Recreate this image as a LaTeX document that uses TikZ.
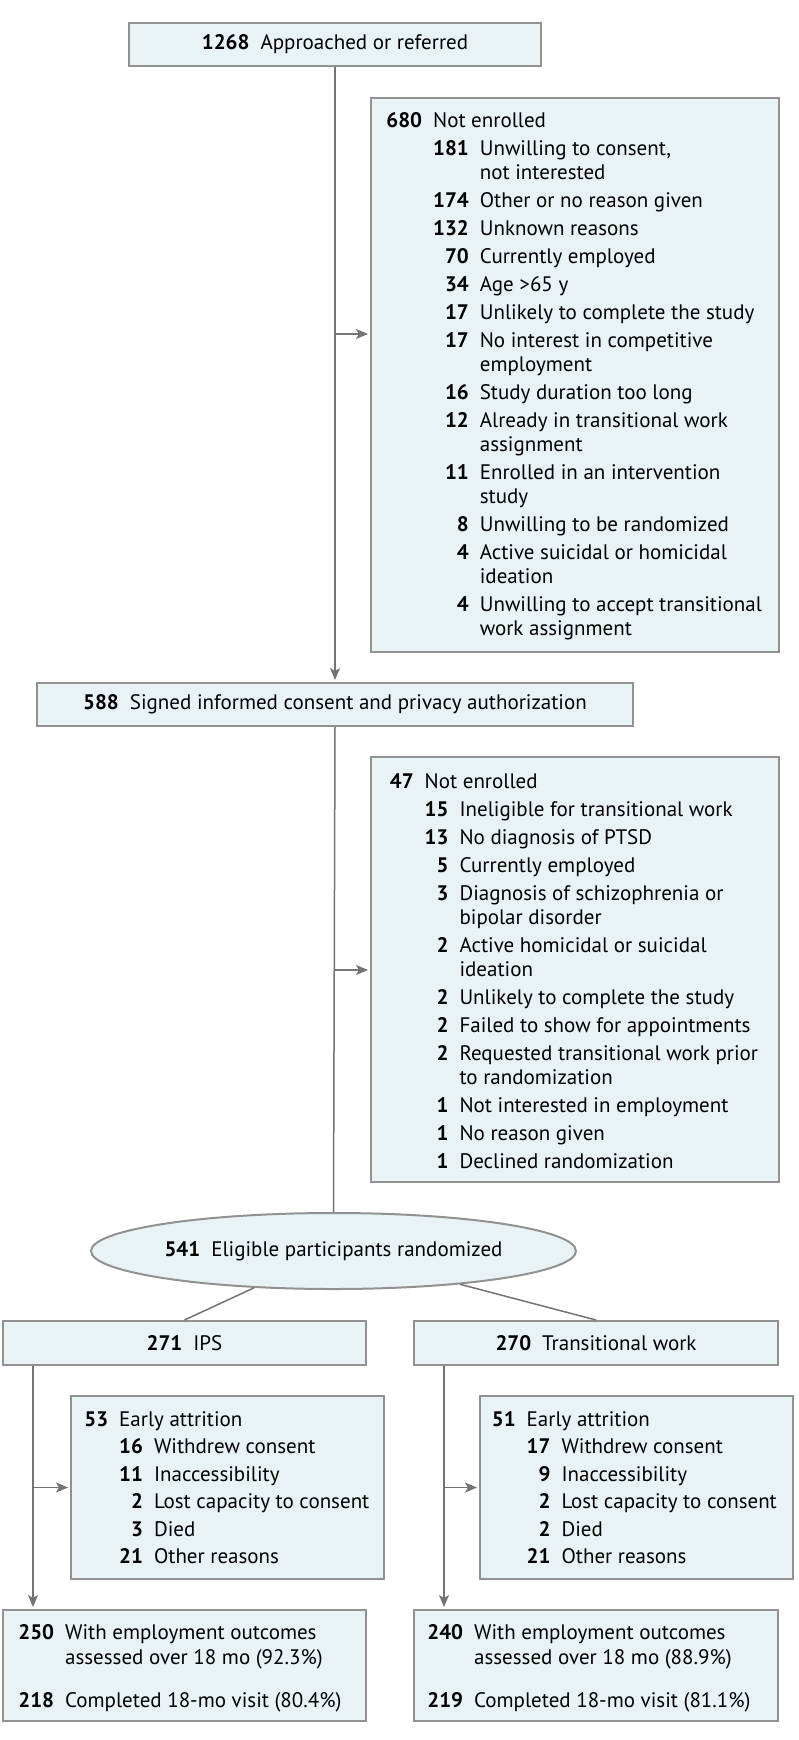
\documentclass[tikz,border=0pt]{standalone}
\usepackage{fontspec}
\setmainfont{PT Sans}
\usetikzlibrary{shapes.geometric,arrows.meta,calc}
\definecolor{boxfill}{RGB}{233,243,245}
\definecolor{boxline}{RGB}{145,145,145}
\definecolor{connc}{RGB}{115,115,115}
\newcommand{\gp}{\hspace{5.5pt}}
\begin{document}
\begin{tikzpicture}[x=0.5pt,y=-0.5pt,
  font=\fontsize{10.5}{12}\selectfont,
  box/.style={draw=boxline, fill=boxfill, line width=1pt, inner sep=0pt},
  lst/.style={anchor=base west, inner sep=0pt},
  conn/.style={draw=connc, line width=0.75pt},
  arr/.style={conn, shorten >=1pt, -{Stealth[length=6pt,width=5pt,inset=1.5pt]}}]
\useasboundingbox (0,0) rectangle (798,1740);

% boxes
\node[box, minimum width=206pt, minimum height=21.75pt] (top) at (335,44.25)
  {\textbf{1268}\gp Approached or referred};
\node[box, minimum width=204pt, minimum height=277pt] (ne1) at (575,375) {};
\node[box, minimum width=298pt, minimum height=21.5pt] (consent) at (335,704.5)
  {\textbf{588}\gp Signed informed consent and privacy authorization};
\node[box, minimum width=204pt, minimum height=212.5pt] (ne2) at (575,969.5) {};
\node[box, ellipse, minimum width=242.5pt, minimum height=38pt] (ell) at (333.5,1251)
  {\textbf{541}\gp Eligible participants randomized};
\node[box, minimum width=181.5pt, minimum height=22pt] (ips) at (184.5,1343)
  {\textbf{271}\gp IPS};
\node[box, minimum width=182pt, minimum height=22pt] (tw) at (596,1343)
  {\textbf{270}\gp Transitional work};
\node[box, minimum width=156.5pt, minimum height=91.5pt] (attips) at (227.5,1487.5) {};
\node[box, minimum width=156.5pt, minimum height=91.5pt] (atttw) at (636.5,1487.5) {};
\node[box, minimum width=181.5pt, minimum height=55.5pt] (ipsout) at (184.5,1665.5) {};
\node[box, minimum width=182pt, minimum height=55.5pt] (twout) at (596,1665.5) {};

% list texts
\node[lst] (ne1t) at (386,127) {\begin{tabular}[t]{@{}r@{\gp}r@{\gp}l@{}}
\textbf{680} & \multicolumn{2}{@{}l@{}}{Not enrolled}\\[2pt]
& \textbf{181} & Unwilling to consent,\\
& & not interested\\[2pt]
& \textbf{174} & Other or no reason given\\[2pt]
& \textbf{132} & Unknown reasons\\[2pt]
& \textbf{70} & Currently employed\\[2pt]
& \textbf{34} & Age >65 y\\[2pt]
& \textbf{17} & Unlikely to complete the study\\[2pt]
& \textbf{17} & No interest in competitive\\
& & employment\\[2pt]
& \textbf{16} & Study duration too long\\[2pt]
& \textbf{12} & Already in transitional work\\
& & assignment\\[2pt]
& \textbf{11} & Enrolled in an intervention\\
& & study\\[2pt]
& \textbf{8} & Unwilling to be randomized\\[2pt]
& \textbf{4} & Active suicidal or homicidal\\
& & ideation\\[2pt]
& \textbf{4} & Unwilling to accept transitional\\
& & work assignment
\end{tabular}};

\node[lst] (ne2t) at (389.5,788) {\begin{tabular}[t]{@{}r@{\gp}r@{\gp}l@{}}
\textbf{47} & \multicolumn{2}{@{}l@{}}{Not enrolled}\\[2pt]
& \textbf{15} & Ineligible for transitional work\\[2pt]
& \textbf{13} & No diagnosis of PTSD\\[2pt]
& \textbf{5} & Currently employed\\[2pt]
& \textbf{3} & Diagnosis of schizophrenia or\\
& & bipolar disorder\\[2pt]
& \textbf{2} & Active homicidal or suicidal\\
& & ideation\\[2pt]
& \textbf{2} & Unlikely to complete the study\\[2pt]
& \textbf{2} & Failed to show for appointments\\[2pt]
& \textbf{2} & Requested transitional work prior\\
& & to randomization\\[2pt]
& \textbf{1} & Not interested in employment\\[2pt]
& \textbf{1} & No reason given\\[2pt]
& \textbf{1} & Declined randomization
\end{tabular}};

\node[lst] (attipst) at (84,1426) {\begin{tabular}[t]{@{}r@{\gp}r@{\gp}l@{}}
\textbf{53} & \multicolumn{2}{@{}l@{}}{Early attrition}\\[1.75pt]
& \textbf{16} & Withdrew consent\\[1.75pt]
& \textbf{11} & Inaccessibility\\[1.75pt]
& \textbf{2} & Lost capacity to consent\\[1.75pt]
& \textbf{3} & Died\\[1.75pt]
& \textbf{21} & Other reasons
\end{tabular}};

\node[lst] (atttwt) at (491.5,1426) {\begin{tabular}[t]{@{}r@{\gp}r@{\gp}l@{}}
\textbf{51} & \multicolumn{2}{@{}l@{}}{Early attrition}\\[1.75pt]
& \textbf{17} & Withdrew consent\\[1.75pt]
& \textbf{9} & Inaccessibility\\[1.75pt]
& \textbf{2} & Lost capacity to consent\\[1.75pt]
& \textbf{2} & Died\\[1.75pt]
& \textbf{21} & Other reasons
\end{tabular}};

\node[lst] (ipsoutt) at (18,1639) {\begin{tabular}[t]{@{}r@{\gp}l@{}}
\textbf{250} & With employment outcomes\\[0.5pt]
& assessed over 18 mo (92.3\%)\\[9.5pt]
\textbf{218} & Completed 18-mo visit (80.4\%)
\end{tabular}};

\node[lst] (twoutt) at (427,1639) {\begin{tabular}[t]{@{}r@{\gp}l@{}}
\textbf{240} & With employment outcomes\\[0.5pt]
& assessed over 18 mo (88.9\%)\\[9.5pt]
\textbf{219} & Completed 18-mo visit (81.1\%)
\end{tabular}};

% connectors
\draw[arr] (top.south) -- (consent.north);
\coordinate (j1) at (335,334);
\draw[arr] (j1) -- (j1 -| ne1.west);
\draw[conn] (consent.south) -- (ell.north);
\coordinate (j2) at (335,970);
\draw[arr] (j2) -- (j2 -| ne2.west);
\draw[conn] (ips.north) -- (ell);
\draw[conn] (tw.north) -- (ell);
\coordinate (ipsA) at ($(ips.south west)+(31,0)$);
\draw[arr] (ipsA) -- (ipsA |- ipsout.north);
\draw[arr] (ipsA |- attips.west) -- (attips.west);
\coordinate (twA) at ($(tw.south west)+(31,0)$);
\draw[arr] (twA) -- (twA |- twout.north);
\draw[arr] (twA |- atttw.west) -- (atttw.west);
\end{tikzpicture}
\end{document}
